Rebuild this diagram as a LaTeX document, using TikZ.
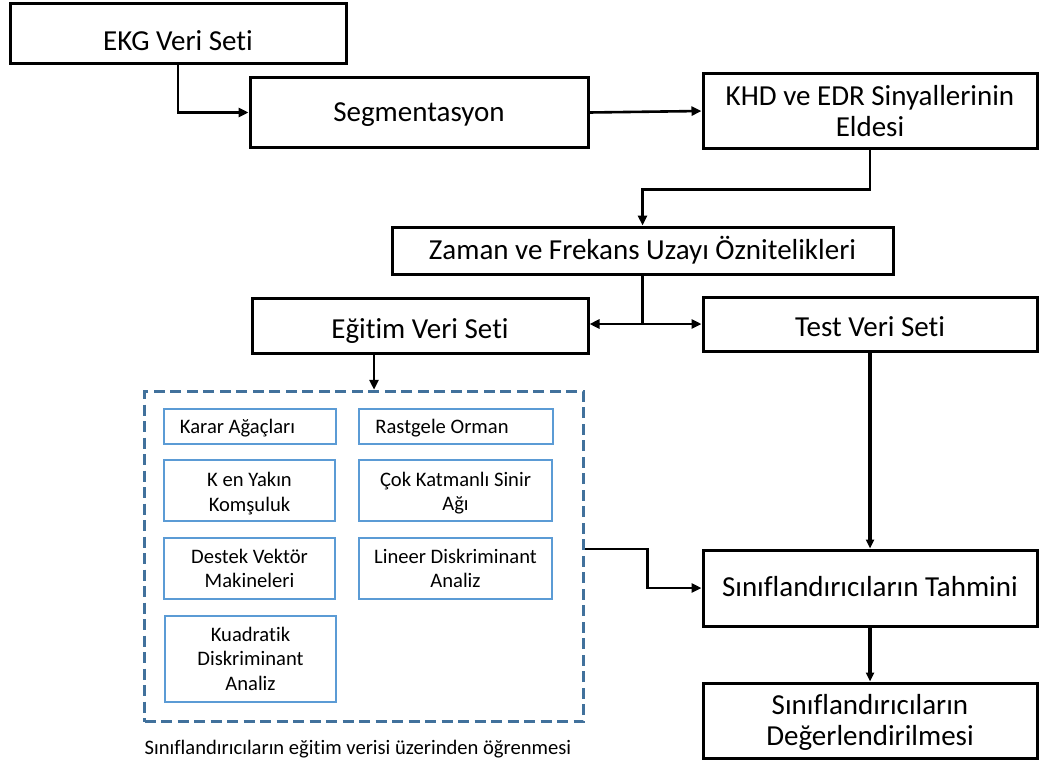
\documentclass[tikz,border=0pt]{standalone}
\usepackage{fontspec}
\setmainfont{Carlito}[Ligatures={NoCommon}]
\usetikzlibrary{arrows.meta,calc}
\definecolor{dashblue}{HTML}{41719C}
\definecolor{lightblue}{HTML}{5B9BD5}
\newcommand{\upstrut}[1]{\rule{0pt}{#1}}
\begin{document}
\begin{tikzpicture}[x=1pt,y=-1pt,
  mainbox/.style={draw=black,line width=3pt,rectangle,inner sep=0pt,align=center,
    font=\fontsize{29}{31.5}\selectfont},
  oneline/.style={text height=18.3pt+2*#1,text depth=0pt},
  oneline/.default=0pt,
  algbox/.style={draw=lightblue,line width=2pt,rectangle,inner sep=0pt,align=center,
    font=\fontsize{20.6}{24.5}\selectfont},
  algleft/.style={draw=lightblue,line width=2pt,rectangle,inner sep=0pt,
    font=\fontsize{20.6}{24.5}\selectfont,text height=13pt,text depth=0pt},
  arr/.style={line width=2.6pt,-{Triangle[length=10pt,width=9pt]}},
  thickarr/.style={line width=3.6pt,-{Triangle[length=9pt,width=8pt]}},
  ln/.style={line width=2.6pt},
  groupbox/.style={draw=dashblue,line width=3.5pt,dash pattern=on 11pt off 5.5pt}]
\useasboundingbox (0,0) rectangle (1040,765);

% main boxes
\node[mainbox,oneline=7.5pt,minimum width=336pt,minimum height=60pt] (ekg) at (178,34) {EKG Veri Seti};
\node[mainbox,oneline,minimum width=338pt,minimum height=69pt] (seg) at (419,112.5) {Segmentasyon};
\node[mainbox,minimum width=334pt,minimum height=74pt] (khd) at (870,111) {KHD ve EDR Sinyallerinin\\Eldesi};
\node[mainbox,oneline,minimum width=501pt,minimum height=47pt] (zaman) at (642.5,250.5) {Zaman ve Frekans Uzayı Öznitelikleri};
\node[mainbox,oneline=4pt,minimum width=336pt,minimum height=55pt] (egitim) at (420,325.5) {Eğitim Veri Seti};
\node[mainbox,oneline=3.5pt,minimum width=334pt,minimum height=54pt] (test) at (870,324) {Test Veri Seti};
\node[mainbox,oneline=-1pt,minimum width=334pt,minimum height=76pt] (tahmin) at (870,588) {Sınıflandırıcıların Tahmini};
\node[mainbox,minimum width=334pt,minimum height=75pt] (deger) at (870,720.5) {\upstrut{24.3pt}Sınıflandırıcıların\\Değerlendirilmesi};

% dashed group
\node[groupbox,rectangle,minimum width=439pt,minimum height=330pt,inner sep=0pt] (grp) at (364,556.5) {};

% algorithm boxes
\node[algleft,minimum width=172pt,minimum height=35pt] (karar) at (250,426.5) {Karar Ağaçları\kern25pt};
\node[algleft,minimum width=194pt,minimum height=35pt] (orman) at (456,426.5) {Rastgele Orman\kern28pt};
\node[algbox,minimum width=171pt,minimum height=61pt] (knn) at (249.5,490) {\upstrut{21.4pt}K en Yakın\\Komşuluk};
\node[algbox,minimum width=193pt,minimum height=61pt] (mlp) at (455.5,490.5) {\upstrut{19.4pt}Çok Katmanlı Sinir\\Ağı};
\node[algbox,minimum width=171pt,minimum height=61pt] (svm) at (249.5,568.5) {Destek Vektör\\Makineleri};
\node[algbox,minimum width=193pt,minimum height=61pt] (lda) at (455.5,568.5) {Lineer Diskriminant\\Analiz};
\node[algbox,minimum width=171pt,minimum height=86pt] (qda) at (250.5,658.5) {Kuadratik\\Diskriminant\\Analiz};

% caption
\node[font=\fontsize{20.6}{24}\selectfont,inner sep=0pt,text height=13pt,text depth=0pt] (cap) at (358,748) {Sınıflandırıcıların eğitim verisi üzerinden öğrenmesi};

% connectors
\draw[arr] (ekg.south) |- (seg.west);
\draw[arr] (seg.east) -- (khd.west);
\draw[arr] (khd.south) -- ++(0,40) -| (zaman.north);
\coordinate (split) at (zaman.south |- 0,324);
\draw[ln] (zaman.south) -- (split);
\draw[arr] (split) -- (egitim.east |- split);
\draw[arr] (split) -- (test.west |- split);
\draw[arr] (egitim.south -| 374,0) -- (grp.north -| 374,0);
\draw[thickarr] (test.south) -- (tahmin.north);
\coordinate (gout) at (grp.east |- 0,549);
\draw[arr] (gout) -- ++(62,0) |- (tahmin.west);
\draw[thickarr] (tahmin.south) -- (deger.north);
\end{tikzpicture}
\end{document}
